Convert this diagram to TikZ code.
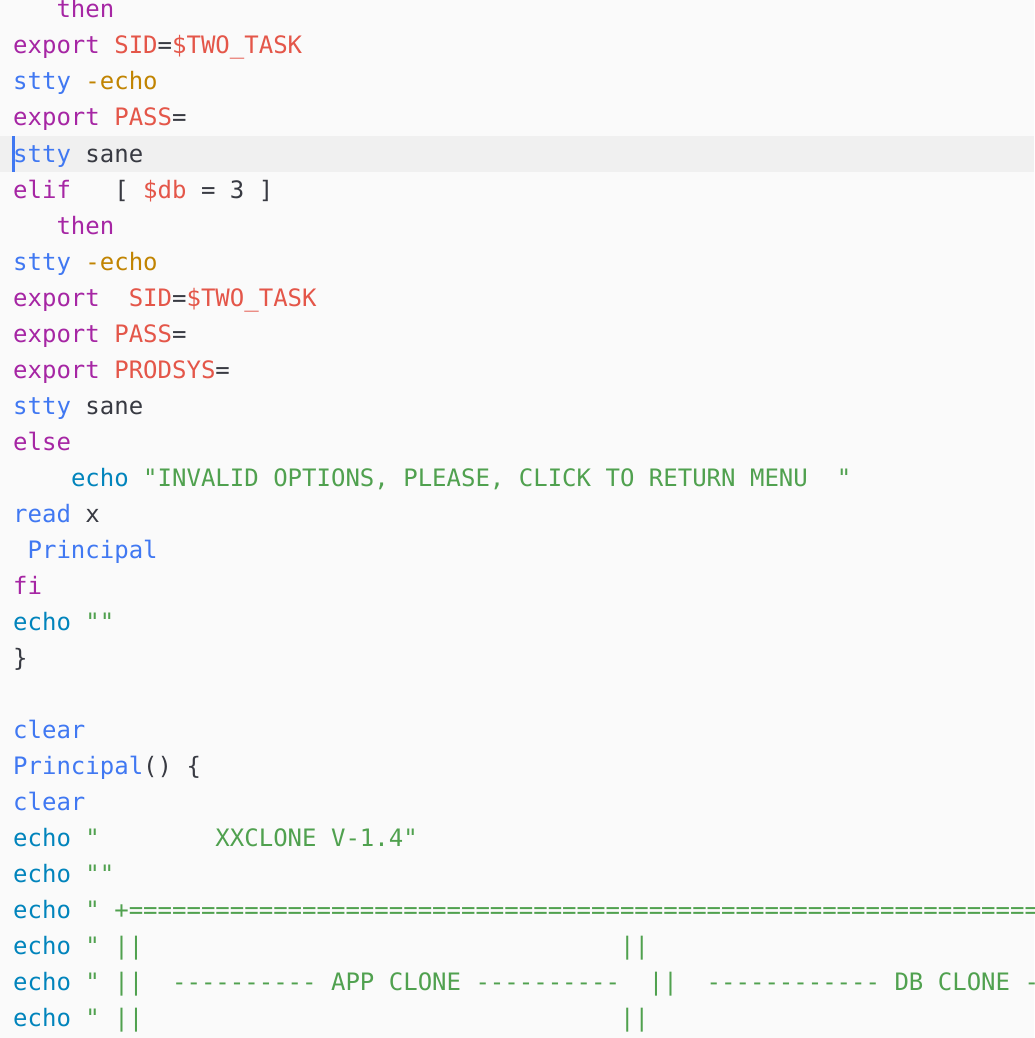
\documentclass[tikz,border=0pt]{standalone}
\usepackage{fontspec}
\setmonofont{DejaVu Sans Mono}
\definecolor{fond}{HTML}{FAFAFA}
\definecolor{surligne}{HTML}{F0F0F0}
\definecolor{motcle}{HTML}{A626A4}
\definecolor{commande}{HTML}{4078F2}
\definecolor{variable}{HTML}{E45649}
\definecolor{option}{HTML}{C18401}
\definecolor{affiche}{HTML}{0184BC}
\definecolor{chaine}{HTML}{50A14F}
\definecolor{texte}{HTML}{383A42}
\newlength{\cw}\setlength{\cw}{14.45pt}
\newcommand{\esp}[1]{\hspace*{#1\cw}}
\newcommand{\kw}[1]{\textcolor{motcle}{#1}}
\newcommand{\cm}[1]{\textcolor{commande}{#1}}
\newcommand{\va}[1]{\textcolor{variable}{#1}}
\newcommand{\op}[1]{\textcolor{option}{#1}}
\newcommand{\ec}[1]{\textcolor{affiche}{#1}}
\newcommand{\st}[1]{\textcolor{chaine}{#1}}
\begin{document}
\begin{tikzpicture}[x=1pt,y=-1pt]
			\tikzstyle{ligne}=[anchor=base west,inner sep=0pt,text=texte,font=\ttfamily\fontsize{24}{24}\selectfont]
			
			\def\Gauche{13}
			\def\Base{8}
			
			\fill[fond] (0,0) rectangle (1034,1038);
			\useasboundingbox (0,0) rectangle (1034,1038);
			\clip (0,0) rectangle (1034,1038);
			\fill[surligne] (0,136) rectangle (1034,172);
			\fill[commande] (12,136) rectangle (15,172);
			
			\node[ligne] (l1) at (\Gauche,10+\Base) {\esp{3}\kw{then}};
			\node[ligne] (l2) at (\Gauche,46+\Base) {\kw{export} \va{SID}=\va{\$TWO\_TASK}};
			\node[ligne] (l3) at (\Gauche,82+\Base) {\cm{stty} \op{-echo}};
			\node[ligne] (l4) at (\Gauche,118+\Base) {\kw{export} \va{PASS}=};
			\node[ligne] (l5) at (\Gauche,154+\Base) {\cm{stty} sane};
			\node[ligne] (l6) at (\Gauche,190+\Base) {\kw{elif}\esp{3}[ \va{\$db} = 3 ]};
			\node[ligne] (l7) at (\Gauche,226+\Base) {\esp{3}\kw{then}};
			\node[ligne] (l8) at (\Gauche,262+\Base) {\cm{stty} \op{-echo}};
			\node[ligne] (l9) at (\Gauche,298+\Base) {\kw{export}\esp{2}\va{SID}=\va{\$TWO\_TASK}};
			\node[ligne] (l10) at (\Gauche,334+\Base) {\kw{export} \va{PASS}=};
			\node[ligne] (l11) at (\Gauche,370+\Base) {\kw{export} \va{PRODSYS}=};
			\node[ligne] (l12) at (\Gauche,406+\Base) {\cm{stty} sane};
			\node[ligne] (l13) at (\Gauche,442+\Base) {\kw{else}};
			\node[ligne] (l14) at (\Gauche,478+\Base) {\esp{4}\ec{echo} \st{"INVALID OPTIONS, PLEASE, CLICK TO RETURN MENU\esp{2}"}};
			\node[ligne] (l15) at (\Gauche,514+\Base) {\cm{read} x};
			\node[ligne] (l16) at (\Gauche,550+\Base) {\esp{1}\cm{Principal}};
			\node[ligne] (l17) at (\Gauche,586+\Base) {\kw{fi}};
			\node[ligne] (l18) at (\Gauche,622+\Base) {\ec{echo} \st{""}};
			\node[ligne] (l19) at (\Gauche,658+\Base) {\}};
			\node[ligne] (l21) at (\Gauche,730+\Base) {\cm{clear}};
			\node[ligne] (l22) at (\Gauche,766+\Base) {\cm{Principal}() \{};
			\node[ligne] (l23) at (\Gauche,802+\Base) {\cm{clear}};
			\node[ligne] (l24) at (\Gauche,838+\Base) {\ec{echo} \st{"\esp{8}XXCLONE V-1.4"}};
			\node[ligne] (l25) at (\Gauche,874+\Base) {\ec{echo} \st{""}};
			\node[ligne] (l26) at (\Gauche,910+\Base) {\ec{echo} \st{" +=================================================================}};
			\node[ligne] (l27) at (\Gauche,946+\Base) {\ec{echo} \st{" ||\esp{33}||}};
			\node[ligne] (l28) at (\Gauche,982+\Base) {\ec{echo} \st{" ||\esp{2}---------- APP CLONE ----------\esp{2}||\esp{2}------------ DB CLONE -}};
			\node[ligne] (l29) at (\Gauche,1018+\Base) {\ec{echo} \st{" ||\esp{33}||}};
		\end{tikzpicture}
\end{document}
